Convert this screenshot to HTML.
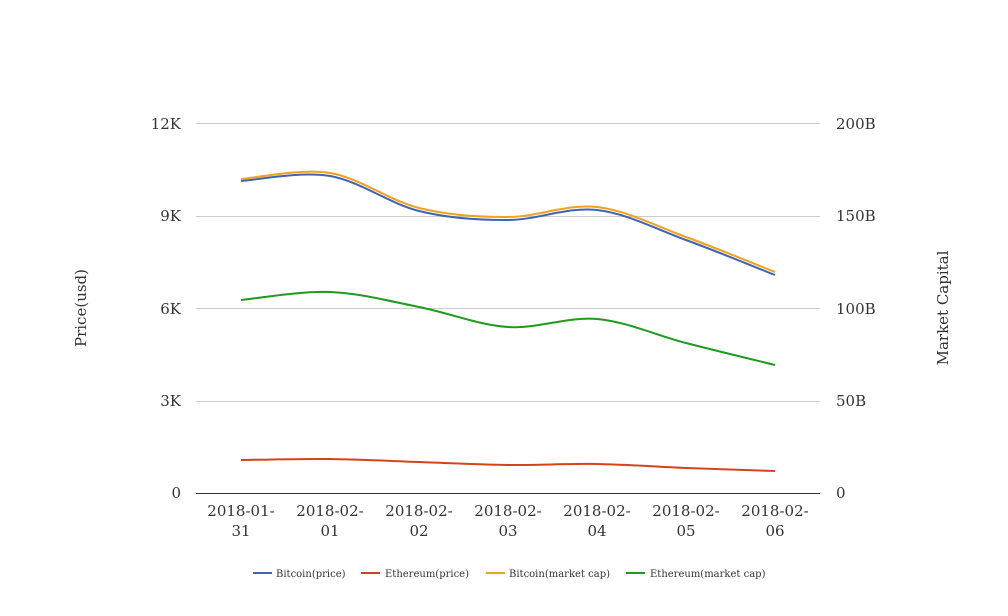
<!DOCTYPE html>
<html><head><meta charset="utf-8"><style>
html,body{margin:0;padding:0;background:#fff}
svg{display:block}
text{font-family:"DejaVu Serif","Liberation Serif",serif;fill:#333}
</style></head><body>
<svg id="s" width="1008" height="616" xmlns="http://www.w3.org/2000/svg">
<g stroke="#cccccc" stroke-width="1">
<line x1="196" x2="820" y1="123.5" y2="123.5"/>
<line x1="196" x2="820" y1="216.5" y2="216.5"/>
<line x1="196" x2="820" y1="308.5" y2="308.5"/>
<line x1="196" x2="820" y1="401.5" y2="401.5"/>
</g>
<line x1="196" x2="820" y1="493.5" y2="493.5" stroke="#333"/>
<g font-size="15" text-anchor="end">
<text x="181" y="129">12K</text><text x="181" y="221">9K</text><text x="181" y="314">6K</text><text x="181" y="406">3K</text><text x="181" y="498">0</text>
</g>
<g font-size="15" text-anchor="start">
<text x="836" y="129">200B</text><text x="836" y="221">150B</text><text x="836" y="314">100B</text><text x="836" y="406">50B</text><text x="836" y="498">0</text>
</g>
<g font-size="15" text-anchor="middle">
<text x="241" y="516">2018-01-</text><text x="241" y="536">31</text>
<text x="330" y="516">2018-02-</text><text x="330" y="536">01</text>
<text x="419" y="516">2018-02-</text><text x="419" y="536">02</text>
<text x="508" y="516">2018-02-</text><text x="508" y="536">03</text>
<text x="597" y="516">2018-02-</text><text x="597" y="536">04</text>
<text x="686" y="516">2018-02-</text><text x="686" y="536">05</text>
<text x="775" y="516">2018-02-</text><text x="775" y="536">06</text>
</g>
<text font-size="15" text-anchor="middle" transform="translate(86,308) rotate(-90)">Price(usd)</text>
<text font-size="15" text-anchor="middle" transform="translate(948,308) rotate(-90)">Market Capital</text>
<g id="lines" fill="none" stroke-width="2"></g>
<g font-size="10">
<line x1="253" x2="272" y1="573" y2="573" stroke="#3f64b0" stroke-width="2"/><text x="276" y="577">Bitcoin(price)</text>
<line x1="361" x2="380" y1="573" y2="573" stroke="#d4441c" stroke-width="2"/><text x="385" y="577">Ethereum(price)</text>
<line x1="486" x2="505" y1="573" y2="573" stroke="#f2a01e" stroke-width="2"/><text x="509" y="577">Bitcoin(market cap)</text>
<line x1="626" x2="645" y1="573" y2="573" stroke="#1e9a1e" stroke-width="2"/><text x="650" y="577">Ethereum(market cap)</text>
</g>
</svg>
<script>
var xs=[241,330,419,508,597,686,775];
var S=[["#d4441c",[460,459,462,465,464,468,471]],
["#1e9a1e",[300,292,307,327,319,343,365]],
["#3f64b0",[181,176,211,220,210,240,275]],
["#f2a01e",[179,173,208,217,207,237,272]]];
var g=document.getElementById("lines");
S.forEach(function(s){var y=s[1],d="M"+xs[0]+","+y[0];
for(var i=0;i<6;i++){var p0=i?i-1:0,p3=i<5?i+2:6;
var c1x=xs[i]+(xs[i+1]-xs[p0])/6,c1y=y[i]+(y[i+1]-y[p0])/6;
var c2x=xs[i+1]-(xs[p3]-xs[i])/6,c2y=y[i+1]-(y[p3]-y[i])/6;
d+=" C"+c1x+","+c1y+" "+c2x+","+c2y+" "+xs[i+1]+","+y[i+1];}
var p=document.createElementNS("http://www.w3.org/2000/svg","path");
p.setAttribute("d",d);p.setAttribute("stroke",s[0]);g.appendChild(p);});
</script>
</body></html>
